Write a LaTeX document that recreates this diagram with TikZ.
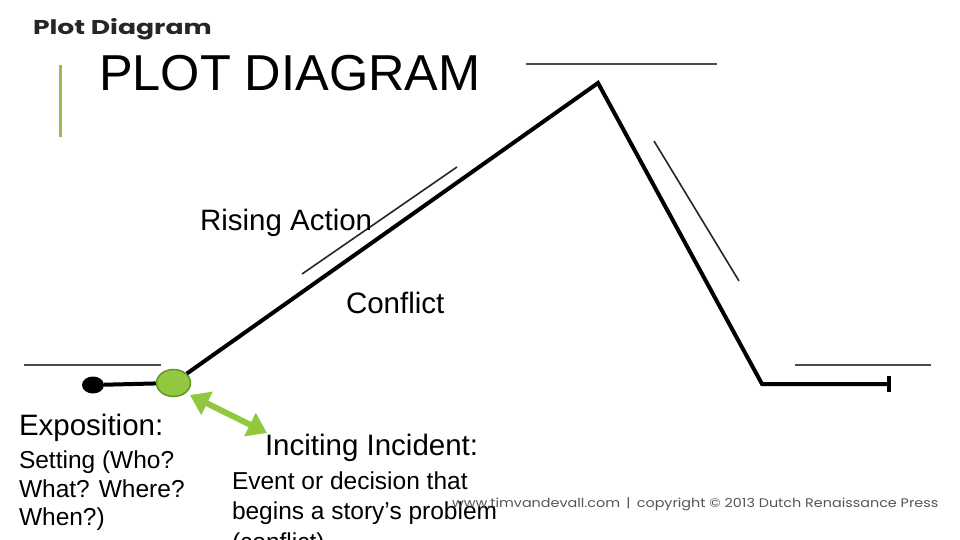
\documentclass[tikz,border=0pt]{standalone}
\usepackage{fontspec}
\setmainfont{Liberation Sans}
\newfontfamily\gothic{Poppins}
\usetikzlibrary{arrows.meta,shapes.geometric}
\definecolor{olive}{RGB}{155,187,89}
\definecolor{lgreen}{RGB}{146,200,64}
\definecolor{dgreen}{RGB}{100,148,42}
\definecolor{wmgray}{RGB}{85,85,85}
\tikzset{
  txt/.style={anchor=base west, inner sep=0pt, outer sep=0pt, align=left},
  plotline/.style={line width=4pt, black, line join=miter},
  thinline/.style={line width=1.6pt, black!85},
  guideline/.style={line width=2pt, black!70},
  blackdot/.style={ellipse, fill=black, minimum width=22pt, minimum height=17pt, inner sep=0pt},
  greendot/.style={ellipse, fill=lgreen, draw=dgreen, line width=1.5pt, minimum width=34pt, minimum height=27pt, inner sep=0pt},
  greenarrow/.style={lgreen, line width=6pt, {Triangle[width=25pt 0, length=19pt 0]}-{Triangle[width=25pt 0, length=19pt 0]}},
  bigtxt/.style={txt, font=\fontsize{29.5}{34}\selectfont},
  bodytxt/.style={txt, font=\fontsize{24.5}{30}\selectfont},
}
\begin{document}
\begin{tikzpicture}[x=1pt,y=-1pt]
\useasboundingbox (0,0) rectangle (960,540);
\clip (0,0) rectangle (960,540);
\fill[white] (0,0) rectangle (960,540);

% header
\node[txt, font=\gothic\bfseries\fontsize{20}{22}\selectfont, text=black!85] (hdr) at (33,35) {\scalebox{1.33}[1]{Plot Diagram}};
\node[fill=olive, minimum width=3pt, minimum height=72pt, inner sep=0pt] (bar) at (60,101) {};
\node[txt, font=\fontsize{50.5}{56}\selectfont] (title) at (99,91) {PLOT DIAGRAM};

% guide lines
\coordinate (tl1) at (526,64); \coordinate (tl2) at (717,64);
\draw[guideline] (tl1) -- (tl2);
\coordinate (ll1) at (24,365); \coordinate (ll2) at (161,365);
\draw[guideline] (ll1) -- (ll2);
\coordinate (rl1) at (795,365); \coordinate (rl2) at (931,365);
\draw[guideline] (rl1) -- (rl2);
\coordinate (ra1) at (302,274); \coordinate (ra2) at (457,167);
\draw[thinline] (ra1) -- (ra2);
\coordinate (fa1) at (654,141); \coordinate (fa2) at (739,281);
\draw[thinline] (fa1) -- (fa2);

% plot line
\node[blackdot] (dot) at (93,385) {};
\node[greendot] (inc) at (173.5,383) {};
\coordinate (peak) at (598,83);
\coordinate (valley) at (762,384);
\coordinate (endp) at (889,384);
\draw[plotline] (dot) -- (inc);
\draw[plotline] (inc) -- (peak) -- (valley) -- (endp);
\draw[plotline, line join=miter] (endp) ++(0,-8) -- ++(0,16);

% arrow
\coordinate (a1) at (190,395);
\coordinate (a2) at (267,433);
\draw[greenarrow] (a1) -- (a2);

% labels
\node[bigtxt] (rising) at (200,230) {Rising Action};
\node[bigtxt] (conflict) at (346,313) {Conflict};
\node[bigtxt] (expo) at (19,435) {Exposition:};
\node[bodytxt] (expo1) at (19,468) {Setting (Who?};
\node[bodytxt] (expo2) at (19,497) {What? Where?};
\node[bodytxt] (expo3) at (19,525) {When?)};
\node[bigtxt] (incite) at (265,455) {Inciting Incident:};
\node[bodytxt] (inc1) at (232,489) {Event or decision that};
\node[bodytxt] (inc2) at (232,519) {begins a story’s problem};
\node[bodytxt] (inc3) at (232,550) {(conflict)};

% watermark
\node[txt, font=\gothic\fontsize{12.5}{14}\selectfont, text=wmgray] (wm) at (452,507) {\scalebox{1.15}[1]{www.timvandevall.com \,|\, copyright © 2013 Dutch Renaissance Press}};
\end{tikzpicture}
\end{document}
